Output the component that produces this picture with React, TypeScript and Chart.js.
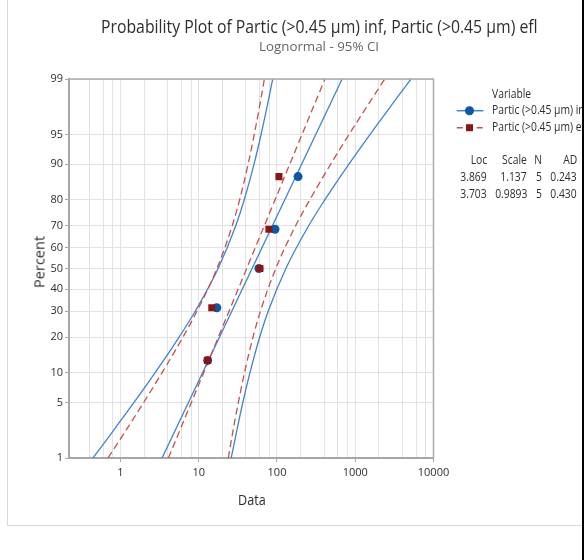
import React, { useEffect, useLayoutEffect, useRef } from 'react';
import { Chart, registerables } from 'chart.js';
Chart.register(...registerables);

// ---- axis ticks ----
const PCT_TICKS = [1, 5, 10, 20, 30, 40, 50, 60, 70, 80, 90, 95, 99];
const X_GRID = [0.4, 0.6, 0.8, 1, 2, 4, 6, 8, 10, 20, 40, 60, 80, 100, 200, 400, 600, 800, 1000, 2000, 4000, 6000, 8000, 10000];
const X_LABELS = [1, 10, 100, 1000, 10000];
const X_MIN = 0.22;
const X_MAX = 10000;

// ---- plotted observations (percent = plotting position) ----
const PLOT_PCT = [12.96, 31.48, 50, 68.52, 87.04];
const INF_DATA = [13.0, 17.0, 58.8, 94.3, 186];
const EFL_DATA = [13.0, 14.7, 60.5, 78.9, 106];

// ---- fitted lines ----
const FIT_PCT = [1, 99];
const INF_FIT = [3.4, 680];
const EFL_FIT = [4.1, 410];

// ---- 95% CI bands ----
const CI_PCT = [1, 2, 5, 10, 20, 30, 50, 70, 80, 90, 95, 98, 99];
const INF_LOWER = [0.445, 0.725, 1.49, 2.76, 5.62, 9.02, 17.7, 29.7, 38.1, 50.9, 62.6, 77.3, 88.2];
const INF_UPPER = [26.0, 29.7, 36.6, 45.1, 60.2, 77.2, 130, 254, 408, 830, 1540, 3170, 5160];
const EFL_LOWER = [0.692, 1.06, 1.98, 3.39, 6.29, 9.49, 17.1, 26.8, 33.3, 42.8, 51.2, 61.6, 69.0];
const EFL_UPPER = [23.9, 26.7, 32.1, 38.4, 49.4, 61.4, 96.5, 173, 262, 486, 832, 1560, 2380];

// ---- texts ----
const TITLE = 'Probability Plot of Partic (>0.45 µm) inf, Partic (>0.45 µm) efl';
const SUBTITLE = 'Lognormal - 95% CI';
const X_TITLE = 'Data';
const Y_TITLE = 'Percent';
const LEGEND_TITLE = 'Variable';
const SERIES_NAMES = ['Partic (>0.45 µm) inf', 'Partic (>0.45 µm) efl'];
const STATS_HEAD = ['Loc', 'Scale', 'N', 'AD'];
const INF_STATS = ['3.869', '1.137', '5', '0.243'];
const EFL_STATS = ['3.703', '0.9893', '5', '0.430'];

const BLUE_LINE = '#3f83d0';
const BLUE_PT = '#0b58a8';
const RED_LINE = '#c4514c';
const RED_PT = '#8e1414';
const TEXT = '#2e2e2e';
const FONT = "'Open Sans', 'Noto Sans', sans-serif";

function probit(p: number): number {
  const a = [-3.969683028665376e1, 2.209460984245205e2, -2.759285104469687e2, 1.38357751867269e2, -3.066479806614716e1, 2.506628277459239];
  const b = [-5.447609879822406e1, 1.615858368580409e2, -1.556989798598866e2, 6.680131188771972e1, -1.328068155288572e1];
  const c = [-7.784894002430293e-3, -3.223964580411365e-1, -2.400758277161838, -2.549732539343734, 4.374664141464968, 2.938163982698783];
  const d = [7.784695709041462e-3, 3.224671290700398e-1, 2.445134137142996, 3.754408661907416];
  const pl = 0.02425;
  let q: number, r: number;
  if (p < pl) {
    q = Math.sqrt(-2 * Math.log(p));
    return (((((c[0] * q + c[1]) * q + c[2]) * q + c[3]) * q + c[4]) * q + c[5]) / ((((d[0] * q + d[1]) * q + d[2]) * q + d[3]) * q + 1);
  }
  if (p <= 1 - pl) {
    q = p - 0.5;
    r = q * q;
    return ((((((a[0] * r + a[1]) * r + a[2]) * r + a[3]) * r + a[4]) * r + a[5]) * q) / (((((b[0] * r + b[1]) * r + b[2]) * r + b[3]) * r + b[4]) * r + 1);
  }
  q = Math.sqrt(-2 * Math.log(1 - p));
  return -(((((c[0] * q + c[1]) * q + c[2]) * q + c[3]) * q + c[4]) * q + c[5]) / ((((d[0] * q + d[1]) * q + d[2]) * q + d[3]) * q + 1);
}

const toPts = (xs: number[], ps: number[]) => xs.map((x, i) => ({ x, y: probit(ps[i] / 100) }));

type FitProps = {
  text: string;
  x: number;
  y: number;
  w?: number;
  sx?: number;
  anchor?: 'left' | 'right' | 'center';
  size?: number;
  color?: string;
  rotate?: boolean;
};

function FitText({ text, x, y, w, sx, anchor = 'left', size = 11, color = TEXT, rotate = false }: FitProps) {
  const ref = useRef<HTMLSpanElement>(null);
  useLayoutEffect(() => {
    const el = ref.current;
    if (!el) return;
    el.style.transform = 'none';
    const nat = el.offsetWidth || 1;
    const s = w != null ? w / nat : sx ?? 1;
    const width = nat * s;
    if (rotate) {
      el.style.transform = `translate(-50%, -50%) rotate(-90deg) scaleX(${s})`;
    } else {
      const tx = anchor === 'left' ? 0 : anchor === 'right' ? -width : -width / 2;
      el.style.transform = `translateX(${tx}px) scaleX(${s})`;
    }
  }, [text, x, y, w, sx, anchor, size, rotate]);
  const style: React.CSSProperties = {
    position: 'absolute',
    whiteSpace: 'nowrap',
    fontFamily: FONT,
    fontSize: size,
    color,
    lineHeight: `${size * 1.362}px`,
  };
  if (rotate) {
    style.left = x;
    style.top = y;
    style.transformOrigin = 'center';
  } else {
    style.left = x;
    style.top = y - size * 0.71;
    style.transformOrigin = '0 0';
  }
  return (
    <span ref={ref} style={style}>
      {text}
    </span>
  );
}

const framePlugin = {
  id: 'frame',
  afterDraw(chart: any) {
    const { ctx, chartArea } = chart;
    ctx.save();
    ctx.strokeStyle = '#ababab';
    ctx.lineWidth = 1.5;
    ctx.beginPath();
    ctx.moveTo(chartArea.left, chartArea.top);
    ctx.lineTo(chartArea.right, chartArea.top);
    ctx.lineTo(chartArea.right, chartArea.bottom);
    ctx.stroke();
    ctx.restore();
  },
};

export default function App() {
  const canvasRef = useRef<HTMLCanvasElement>(null);

  useEffect(() => {
    document.body.style.margin = '0';
    const canvas = canvasRef.current;
    if (!canvas) return;
    const lineDs = (label: string, data: any[], color: string, dashed: boolean, order: number) => ({
      label,
      data,
      borderColor: color,
      backgroundColor: color,
      borderWidth: 1.3,
      borderDash: dashed ? [7, 4] : [],
      pointRadius: 0,
      fill: false,
      cubicInterpolationMode: 'monotone' as const,
      order,
    });
    const chart = new Chart(canvas, {
      type: 'line',
      data: {
        datasets: [
          lineDs('inf upper', toPts(INF_UPPER, CI_PCT), BLUE_LINE, false, 5),
          lineDs('inf lower', toPts(INF_LOWER, CI_PCT), BLUE_LINE, false, 5),
          lineDs('inf fit', toPts(INF_FIT, FIT_PCT), BLUE_LINE, false, 5),
          lineDs('efl upper', toPts(EFL_UPPER, CI_PCT), RED_LINE, true, 4),
          lineDs('efl lower', toPts(EFL_LOWER, CI_PCT), RED_LINE, true, 4),
          lineDs('efl fit', toPts(EFL_FIT, FIT_PCT), RED_LINE, true, 4),
          {
            label: SERIES_NAMES[0],
            data: toPts(INF_DATA, PLOT_PCT),
            showLine: false,
            pointStyle: 'circle',
            pointRadius: 4.5,
            pointBorderWidth: 0,
            pointBackgroundColor: BLUE_PT,
            borderColor: BLUE_PT,
            order: 1,
          },
          {
            label: SERIES_NAMES[1],
            data: toPts(EFL_DATA, PLOT_PCT),
            showLine: false,
            pointStyle: 'rect',
            pointRadius: 5,
            pointBorderWidth: 0,
            pointBackgroundColor: RED_PT,
            borderColor: RED_PT,
            order: 0,
          },
        ],
      },
      options: {
        responsive: false,
        animation: false,
        devicePixelRatio: 1,
        layout: { padding: { left: 0, right: 150.5, top: 79, bottom: 0 } },
        plugins: { legend: { display: false }, tooltip: { enabled: false }, title: { display: false } },
        scales: {
          x: {
            type: 'logarithmic',
            min: X_MIN,
            max: X_MAX,
            afterBuildTicks: (s: any) => {
              s.ticks = X_GRID.map((v) => ({ value: v }));
            },
            afterFit: (s: any) => {
              s.height = 102;
            },
            ticks: {
              autoSkip: false,
              maxRotation: 0,
              minRotation: 0,
              padding: 4,
              color: TEXT,
              font: { family: FONT, size: 11 },
              callback: (v: any) => (X_LABELS.includes(Number(v)) ? String(v) : ''),
            },
            grid: {
              color: '#e2e2e2',
              lineWidth: 1,
              tickLength: 4,
              tickColor: (ctx: any) => (ctx.tick && X_LABELS.includes(ctx.tick.value) ? '#a6a6a6' : 'rgba(0,0,0,0)'),
            },
            border: { color: '#a6a6a6', width: 2 },
          },
          y: {
            type: 'linear',
            min: probit(0.01),
            max: probit(0.99),
            afterBuildTicks: (s: any) => {
              s.ticks = PCT_TICKS.map((p) => ({ value: probit(p / 100) }));
            },
            afterFit: (s: any) => {
              s.width = 69;
            },
            ticks: {
              autoSkip: false,
              padding: 2,
              color: TEXT,
              font: { family: FONT, size: 11 },
              callback: (_v: any, i: number) => String(PCT_TICKS[i]),
            },
            grid: { color: '#e2e2e2', lineWidth: 1, tickLength: 4, tickColor: '#a6a6a6' },
            border: { color: '#a6a6a6', width: 2 },
          },
        },
      },
      plugins: [framePlugin],
    } as any);
    return () => chart.destroy();
  }, []);

  const statCols = [486.7, 527.3, 541.7, 576.7];
  const TSX = 0.86;

  return (
    <div style={{ position: 'relative', width: 584, height: 560, background: '#fff', overflow: 'hidden' }}>
      <div
        style={{
          position: 'absolute',
          left: 7,
          top: -2,
          width: 584 - 8,
          height: 527,
          borderLeft: '1px solid #d9d9d9',
          borderBottom: '1px solid #d9d9d9',
        }}
      />
      <canvas ref={canvasRef} width={584} height={560} style={{ position: 'absolute', left: 0, top: 0 }} />
      <FitText text={TITLE} x={101} y={27} w={437} size={18} color={TEXT} />
      <FitText text={SUBTITLE} x={259} y={47} w={120} size={13} color="#666" />
      <FitText text={X_TITLE} x={238} y={500} w={28} size={14} color={TEXT} />
      <FitText text={Y_TITLE} x={38.5} y={262} w={52} size={14} color={TEXT} rotate />

      <FitText text={LEGEND_TITLE} x={491.7} y={95} sx={TSX} size={12} />
      <FitText text={SERIES_NAMES[0]} x={491.7} y={110.7} sx={TSX} size={12} />
      <FitText text={SERIES_NAMES[1]} x={491.7} y={127.7} sx={TSX} size={12} />
      {STATS_HEAD.map((t, i) => (
        <FitText key={'h' + i} text={t} x={statCols[i]} y={161} sx={TSX} anchor="right" size={12} />
      ))}
      {INF_STATS.map((t, i) => (
        <FitText key={'a' + i} text={t} x={statCols[i]} y={177.5} sx={TSX} anchor="right" size={12} />
      ))}
      {EFL_STATS.map((t, i) => (
        <FitText key={'b' + i} text={t} x={statCols[i]} y={194.5} sx={TSX} anchor="right" size={12} />
      ))}

      <svg width={584} height={560} style={{ position: 'absolute', left: 0, top: 0, pointerEvents: 'none' }}>
        <line x1={456.7} y1={110.7} x2={483.3} y2={110.7} stroke={BLUE_LINE} strokeWidth={1.5} />
        <circle cx={469.5} cy={110.7} r={4.5} fill={BLUE_PT} />
        <line x1={456.7} y1={127.7} x2={483.3} y2={127.7} stroke={RED_LINE} strokeWidth={1.5} strokeDasharray="6 4" />
        <rect x={466} y={124.2} width={7} height={7} fill={RED_PT} />
      </svg>
      <div style={{ position: 'absolute', left: 582, top: 0, width: 2, height: 560, background: '#000' }} />
    </div>
  );
}
